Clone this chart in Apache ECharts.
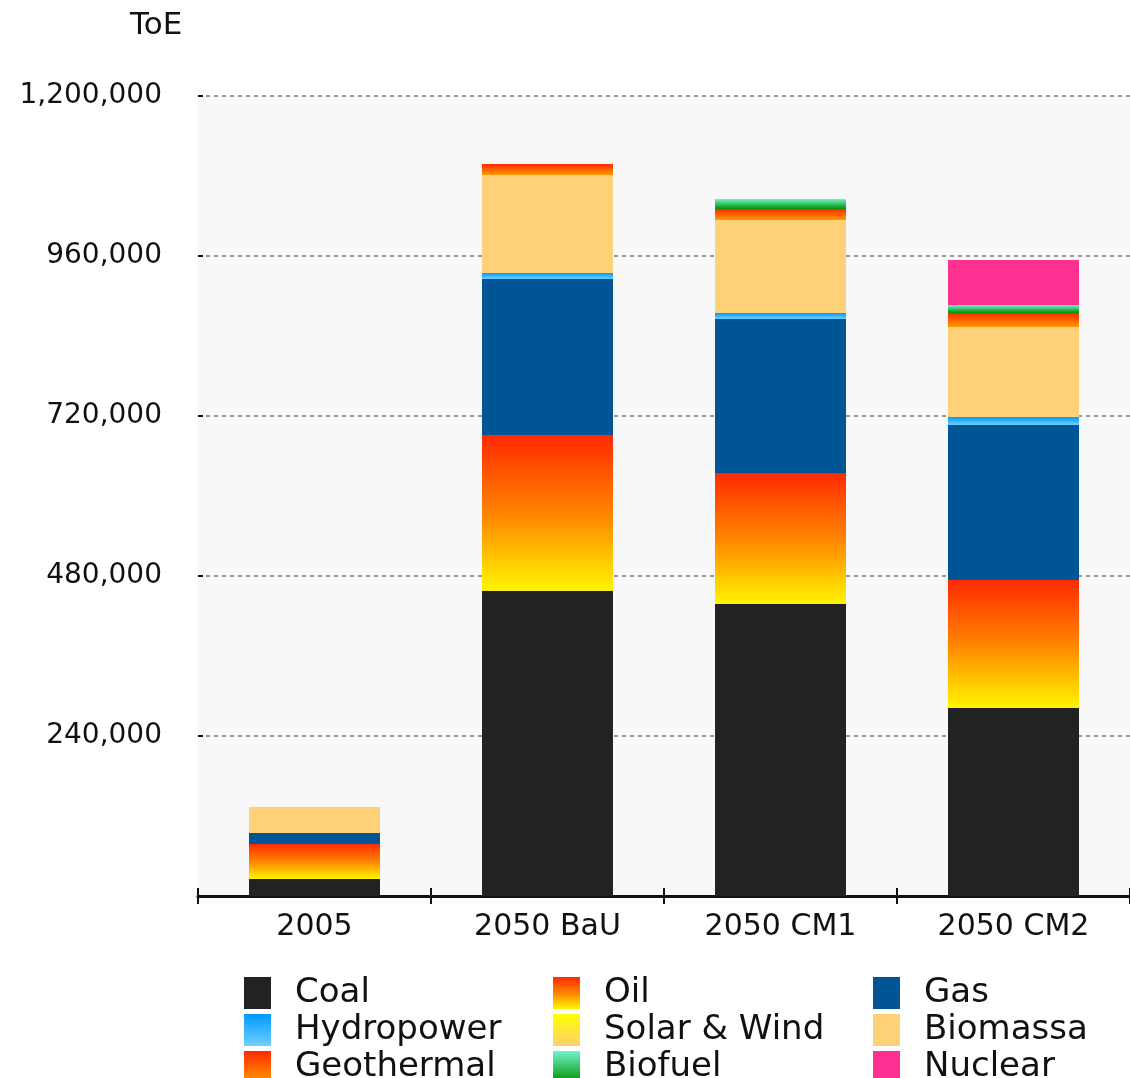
<!DOCTYPE html>
<html>
<head>
<meta charset="utf-8">
<script src="https://cdn.jsdelivr.net/npm/echarts@6/dist/echarts.min.js"></script>
<style>html,body{margin:0;padding:0;background:#fff}#c{width:1130px;height:1078px}</style>
</head>
<body>
<div id="c"></div>
<script>
var categories = ['2005', '2050 BaU', '2050 CM1', '2050 CM2'];
var yTicks = [0, 240000, 480000, 720000, 960000, 1200000];
var coal       = [25500, 458000, 438000, 282000];
var oil        = [52500, 232500, 196500, 192000];
var gas        = [16500, 235000, 231000, 232500];
var hydropower = [0, 9000, 9000, 12000];
var solarWind  = [0, 0, 0, 0];
var biomassa   = [39000, 147000, 139500, 135000];
var geothermal = [0, 16500, 16500, 21000];
var biofuel    = [0, 0, 15000, 12000];
var nuclear    = [0, 0, 0, 67500];

var G = echarts.graphic.LinearGradient;
function grad(a, b, m) {
  var stops = [{offset: 0, color: a}];
  if (m) stops.push({offset: 0.5, color: m});
  stops.push({offset: 1, color: b});
  return new G(0, 0, 0, 1, stops);
}
var seriesDef = [
  ['Coal', coal, '#222222'],
  ['Oil', oil, grad('#ff2a00', '#fff500', '#ff8400')],
  ['Gas', gas, '#005596'],
  ['Hydropower', hydropower, grad('#0099ff', '#70d0ff')],
  ['Solar & Wind', solarWind, grad('#ffff00', '#ffd070')],
  ['Biomassa', biomassa, '#ffd27a'],
  ['Geothermal', geothermal, grad('#ff2a00', '#ff9a00')],
  ['Biofuel', biofuel, grad('#70f5c8', '#008f00')],
  ['Nuclear', nuclear, '#ff3090']
];
var series = seriesDef.map(function (d) {
  return {
    name: d[0], type: 'bar', stack: 'total', barWidth: 131,
    data: d[1], itemStyle: {color: d[2]}, emphasis: {disabled: true}
  };
});
var font = 'DejaVu Sans';
function legendCol(names, left) {
  return {
    orient: 'vertical', left: left, top: 976, height: 110, data: names,
    itemWidth: 27, itemHeight: 32, itemGap: 3, icon: 'rect', padding: 0,
    textStyle: {fontFamily: font, fontSize: 34, color: '#111', padding: [0, 0, 0, 19]},
    selectedMode: false
  };
}
var chart = echarts.init(document.getElementById('c'), null, {renderer: 'canvas'});
chart.setOption({
  animation: false,
  grid: {left: 198, top: 96, width: 934, height: 800, show: true, backgroundColor: '#f8f8f8', borderWidth: 0},
  legend: [
    legendCol(['Coal', 'Hydropower', 'Geothermal'], 244),
    legendCol(['Oil', 'Solar & Wind', 'Biofuel'], 553),
    legendCol(['Gas', 'Biomassa', 'Nuclear'], 873)
  ],
  graphic: [{type: 'text', left: 130, top: 10, style: {text: 'ToE', font: '31px "DejaVu Sans"', fill: '#111'}}],
  xAxis: [{
    type: 'category', data: categories,
    axisLine: {lineStyle: {color: '#111', width: 3}},
    axisTick: {show: true, length: 8, inside: false, lineStyle: {color: '#111', width: 2}},
    axisLabel: {fontFamily: font, fontSize: 30, color: '#111', margin: 16}
  }, {
    type: 'category', data: categories, position: 'bottom',
    axisLine: {show: false},
    axisTick: {show: true, length: 8, inside: true, lineStyle: {color: '#111', width: 2}},
    axisLabel: {show: false}
  }],
  yAxis: {
    type: 'value', min: yTicks[0], max: yTicks[yTicks.length - 1], interval: yTicks[1] - yTicks[0],
    axisLine: {show: false},
    axisTick: {show: true, inside: true, length: 5, lineStyle: {color: '#111', width: 2}},
    splitLine: {lineStyle: {color: '#999', width: 2, type: [4, 4]}},
    axisLabel: {fontFamily: font, fontSize: 28, color: '#111', margin: 36, padding: [4, 0, 0, 0],
      formatter: function (v) { return v === 0 ? '' : v.toLocaleString('en-US'); }}
  },
  series: series
});
</script>
</body>
</html>
